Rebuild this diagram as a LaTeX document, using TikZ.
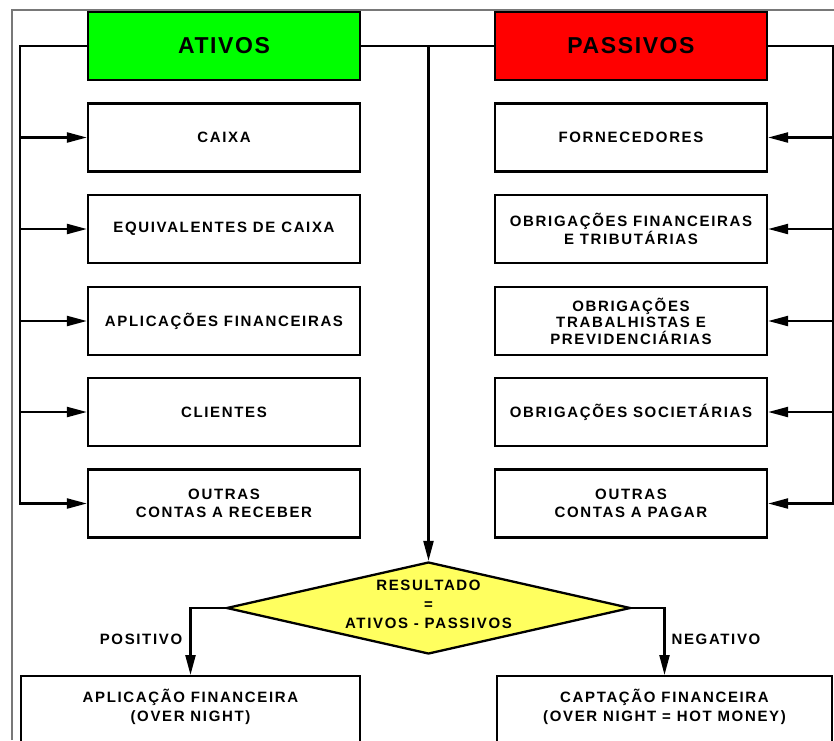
\documentclass[tikz,border=0pt]{standalone}
\usepackage{fontspec}
\setmainfont{Liberation Sans}[LetterSpace=11]
\newfontfamily\headfont{Liberation Sans}[LetterSpace=7]
\usetikzlibrary{arrows.meta,shapes.geometric}
\definecolor{ativogreen}{RGB}{0,255,0}
\definecolor{passivored}{RGB}{255,0,0}
\definecolor{decisionyellow}{RGB}{255,255,95}
\definecolor{framegray}{RGB}{120,120,120}
\begin{document}
\begin{tikzpicture}[x=1pt,y=-1pt,
  box/.style={draw=black, line width=2.3pt, fill=white, minimum width=272pt,
    minimum height=68pt, inner sep=0pt, align=center,
    font=\fontsize{15}{18.5}\selectfont\bfseries},
  tallbox/.style={box, font=\fontsize{15}{16.5}\selectfont\bfseries},
  head/.style={box, font=\fontsize{23}{26}\selectfont\headfont\bfseries},
  basebox/.style={draw=black, line width=2.3pt, fill=white, minimum height=100pt,
    inner sep=0pt, anchor=north},
  boxtext/.style={align=center, inner sep=0pt, font=\fontsize{15}{19}\selectfont\bfseries},
  wire/.style={line width=2.3pt},
  arrowline/.style={wire, -{Triangle[length=20pt,width=10pt]}},
  frameline/.style={draw=framegray, line width=1.2pt}
]
\useasboundingbox (0,0) rectangle (834,740);
\clip (0,0) rectangle (834,740);

% outer frame
\draw[frameline] (12,740) -- (12,10) -- (834,10);

% headers
\node[head, fill=ativogreen] (ativos) at (224,46) {ATIVOS};
\node[head, fill=passivored] (passivos) at (631,46) {PASSIVOS};

% asset accounts
\node[box] (caixa)  at (224,137.5) {CAIXA};
\node[box] (equiv)  at (224,229)   {EQUIVALENTES DE CAIXA};
\node[box] (aplic)  at (224,321)   {APLICAÇÕES FINANCEIRAS};
\node[box] (cli)    at (224,412)   {CLIENTES};
\node[box] (receb)  at (224,503.5) {OUTRAS\\CONTAS A RECEBER};

% liability accounts
\node[box] (fornec) at (631,137.5) {FORNECEDORES};
\node[box] (obfin)  at (631,229)   {OBRIGAÇÕES FINANCEIRAS\\E TRIBUTÁRIAS};
\node[tallbox] (obtrab) at (631,321) {OBRIGAÇÕES\\TRABALHISTAS E\\PREVIDENCIÁRIAS};
\node[box] (obsoc)  at (631,412)   {OBRIGAÇÕES SOCIETÁRIAS};
\node[box] (pagar)  at (631,503.5) {OUTRAS\\CONTAS A PAGAR};

% decision
\node[draw=black, line width=2.3pt, shape=diamond, fill=decisionyellow,
  minimum width=404pt, minimum height=92pt, inner sep=0pt] (res) at (428.5,608) {};
\node[boxtext] (restxt) at (428.5,604) {RESULTADO\\=\\ATIVOS - PASSIVOS};

% outcomes
\node[basebox, minimum width=339pt] (apl) at (190.5,675) {};
\node[boxtext] (apltxt) at (190.5,706.5) {APLICAÇÃO FINANCEIRA\\(OVER NIGHT)};
\node[basebox, minimum width=335pt] (cap) at (664.5,675) {};
\node[boxtext] (captxt) at (664.5,706.5) {CAPTAÇÃO FINANCEIRA\\(OVER NIGHT = HOT MONEY)};

% bus coordinates
\coordinate (lbus) at (20,46);
\coordinate (rbus) at (833,46);
\coordinate (split) at (res.north |- ativos.east);

% left bus
\draw[arrowline] (ativos.west) -- (lbus) |- (receb.west);
\foreach \n in {caixa,equiv,aplic,cli}
  \draw[arrowline] (lbus |- \n.west) -- (\n.west);

% right bus
\draw[arrowline] (passivos.east) -- (rbus) |- (pagar.east);
\foreach \n in {fornec,obfin,obtrab,obsoc}
  \draw[arrowline] (rbus |- \n.east) -- (\n.east);

% centre line to the decision
\draw[wire] (ativos.east) -- (passivos.west);
\draw[arrowline] (split) -- (res.north);

% branches
\draw[arrowline] (res.west) -| (apl.north);
\draw[arrowline] (res.east) -| (cap.north);
\node[boxtext] (pos) at (141,639) {POSITIVO};
\node[boxtext] (neg) at (716,639) {NEGATIVO};
\end{tikzpicture}
\end{document}
